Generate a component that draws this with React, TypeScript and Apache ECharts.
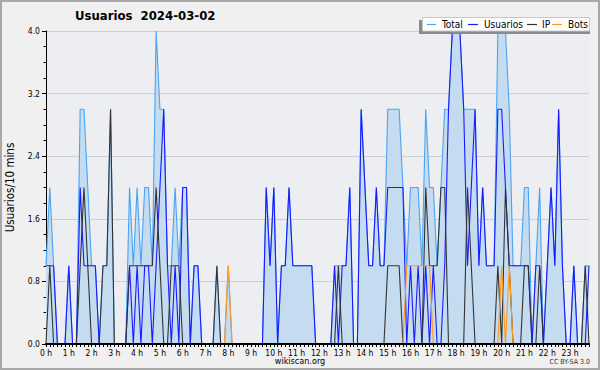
import React, { useEffect, useRef } from "react";
import * as echarts from "echarts";

const hourLabels = [
  "0 h", "1 h", "2 h", "3 h", "4 h", "5 h", "6 h", "7 h", "8 h", "9 h", "10 h", "11 h",
  "12 h", "13 h", "14 h", "15 h", "16 h", "17 h", "18 h", "19 h", "20 h", "21 h", "22 h", "23 h",
];

// 10-minute slots (6 per hour)
const categories: string[] = [];
hourLabels.forEach((h, hi) => {
  for (let m = 0; m < 6; m++) categories.push(m === 0 ? h : `${hi}:${m}0`);
});

const total = [
  1, 2, 1, 0, 0, 0, 1, 0, 0, 3, 3, 2,
  1, 1, 0, 1, 1, 3, 0, 0, 0, 0, 2, 1,
  2, 1, 2, 2, 1, 4, 3, 3, 1, 1, 2, 1,
  2, 2, 0, 1, 1, 0, 0, 0, 0, 1, 0, 0,
  1, 0, 0, 0, 0, 0, 0, 0, 0, 0, 2, 1,
  2, 0, 1, 1, 2, 1, 1, 1, 1, 1, 1, 0,
  0, 0, 0, 0, 1, 1, 1, 1, 2, 0, 0, 3,
  2, 1, 1, 2, 1, 1, 3, 3, 3, 3, 2, 1,
  2, 2, 2, 1, 3, 2, 2, 1, 2, 3, 3, 4,
  4, 4, 3, 3, 3, 3, 1, 2, 1, 1, 1, 4,
  4, 4, 3, 1, 1, 1, 2, 2, 0, 1, 2, 0,
  1, 2, 1, 3, 1, 0, 0, 1, 0, 0, 1, 1,
];

const usuarios = [
  1, 1, 1, 0, 0, 0, 1, 0, 0, 2, 1, 1,
  1, 1, 0, 0, 0, 0, 0, 0, 0, 0, 1, 0,
  1, 0, 1, 1, 0, 1, 2, 3, 1, 0, 1, 0,
  2, 2, 0, 1, 1, 0, 0, 0, 0, 0, 0, 0,
  0, 0, 0, 0, 0, 0, 0, 0, 0, 0, 2, 1,
  2, 0, 1, 1, 2, 1, 1, 1, 1, 1, 1, 0,
  0, 0, 0, 0, 1, 0, 1, 1, 2, 0, 0, 3,
  2, 1, 1, 2, 1, 1, 2, 2, 2, 2, 2, 0,
  1, 0, 1, 0, 1, 0, 1, 0, 0, 1, 3, 4,
  4, 4, 3, 1, 2, 3, 1, 2, 1, 1, 1, 3,
  3, 2, 1, 1, 1, 1, 1, 1, 0, 1, 1, 0,
  1, 2, 1, 3, 1, 0, 0, 1, 0, 0, 0, 1,
];

const ip = [
  0, 1, 0, 0, 0, 0, 0, 0, 0, 1, 2, 1,
  0, 0, 0, 1, 1, 3, 0, 0, 0, 0, 1, 1,
  1, 1, 1, 1, 1, 2, 1, 0, 0, 1, 1, 1,
  0, 0, 0, 0, 0, 0, 0, 0, 0, 1, 0, 0,
  0, 0, 0, 0, 0, 0, 0, 0, 0, 0, 0, 0,
  0, 0, 0, 0, 0, 0, 0, 0, 0, 0, 0, 0,
  0, 0, 0, 0, 0, 1, 0, 0, 0, 0, 0, 0,
  0, 0, 0, 0, 0, 0, 1, 1, 1, 1, 0, 0,
  0, 0, 0, 0, 2, 1, 1, 1, 2, 2, 0, 0,
  0, 0, 0, 2, 1, 0, 0, 0, 0, 0, 0, 1,
  0, 2, 1, 0, 0, 0, 1, 1, 0, 0, 1, 0,
  0, 0, 0, 0, 0, 0, 0, 0, 0, 0, 1, 0,
];

const bots = [
  0, 0, 0, 0, 0, 0, 0, 0, 0, 0, 0, 0,
  0, 0, 0, 0, 0, 0, 0, 0, 0, 0, 0, 0,
  0, 0, 0, 0, 0, 0, 0, 0, 0, 0, 0, 0,
  0, 0, 0, 0, 0, 0, 0, 0, 0, 0, 0, 0,
  1, 0, 0, 0, 0, 0, 0, 0, 0, 0, 0, 0,
  0, 0, 0, 0, 0, 0, 0, 0, 0, 0, 0, 0,
  0, 0, 0, 0, 0, 0, 0, 0, 0, 0, 0, 0,
  0, 0, 0, 0, 0, 0, 0, 0, 0, 0, 0, 1,
  1, 1, 1, 1, 1, 1, 0, 0, 0, 0, 0, 0,
  0, 0, 0, 0, 0, 0, 0, 0, 0, 0, 0, 0,
  1, 0, 1, 0, 0, 0, 0, 0, 0, 0, 0, 0,
  0, 0, 0, 0, 0, 0, 0, 0, 0, 0, 0, 0,
];

const seriesNames = ["Total", "Usuarios", "IP", "Bots"];
const seriesColors = ["#4ba3f2", "#1a1aff", "#333333", "#ff9a1a"];

const FONT = '"DejaVu Sans Condensed", "DejaVu Sans", sans-serif';

export default function App() {
  const ref = useRef<HTMLDivElement>(null);
  useEffect(() => {
    document.body.style.margin = "0";
    const chart = echarts.init(ref.current!, null, { renderer: "svg" });
    const dataSets = [total, usuarios, ip, bots];
    const legendLines = [
      [427, 436, 442],
      [468, 478, 484],
      [527, 537, 542],
      [552, 562, 568],
    ];
    chart.setOption({
      animation: false,
      backgroundColor: "#f0f0f0",
      textStyle: { fontFamily: FONT },
      grid: {
        left: 46,
        right: 11,
        top: 31,
        bottom: 26,
        containLabel: false,
        outerBoundsMode: "none",
        show: true,
        backgroundColor: "#eceef1",
        borderWidth: 0,
      },
      xAxis: {
        type: "category",
        data: categories,
        boundaryGap: false,
        z: 5,
        axisLine: { show: true, lineStyle: { color: "#000", width: 2 } },
        axisTick: { show: true, interval: 0, length: 3, lineStyle: { color: "#000", width: 1 } },
        axisLabel: {
          interval: 5,
          margin: 4,
          fontSize: 8.5,
          color: "#000",
          fontFamily: FONT,
        },
        splitLine: { show: false },
      },
      yAxis: {
        type: "value",
        min: 0,
        max: 4,
        interval: 0.8,
        name: "Usuarios/10 mins",
        nameLocation: "middle",
        nameGap: 30,
        nameTextStyle: { fontSize: 11.5, color: "#000", fontFamily: FONT },
        axisLine: { show: true, lineStyle: { color: "#000", width: 1 } },
        axisTick: { show: true, length: 4, lineStyle: { color: "#000" } },
        minorTick: { show: true, splitNumber: 4, length: 2.5, lineStyle: { color: "#000" } },
        axisLabel: {
          formatter: (v: number) => v.toFixed(1),
          fontSize: 8.5,
          color: "#000",
          margin: 6,
          fontFamily: FONT,
        },
        splitLine: { show: true, lineStyle: { color: "#cfcfcf", width: 1 } },
      },
      series: seriesNames.map((name, k) => ({
        name,
        type: "line",
        data: dataSets[k],
        symbol: "none",
        smooth: false,
        z: 2 + k * 0.1,
        lineStyle: { color: seriesColors[k], width: 1.1 },
        itemStyle: { color: seriesColors[k] },
        areaStyle: k === 0 ? { color: "#c5dcf0", opacity: 1 } : undefined,
      })),
      graphic: [
        {
          type: "text",
          left: 75,
          top: 9,
          style: {
            text: "Usuarios  2024-03-02",
            fontSize: 13,
            fontWeight: "bold",
            fontFamily: FONT,
            fill: "#000",
          },
        },
        {
          type: "rect",
          z: 50,
          shape: { x: 419, y: 20, width: 171, height: 14 },
          style: { fill: "#8a8a8a" },
        },
        {
          type: "rect",
          z: 51,
          shape: { x: 422.5, y: 17.5, width: 167, height: 13.5 },
          style: { fill: "#ffffff", stroke: "#c8c8c8", lineWidth: 1 },
        },
        ...legendLines.flatMap(([x1, x2, tx], k) => [
          {
            type: "line",
            z: 52,
            shape: { x1, y1: 24.5, x2, y2: 24.5 },
            style: { stroke: seriesColors[k], lineWidth: 1.2 },
          },
          {
            type: "text",
            z: 52,
            x: tx,
            y: 24.5,
            style: {
              text: seriesNames[k],
              fontSize: 10,
              fontFamily: FONT,
              fill: "#000",
              verticalAlign: "middle",
              align: "left",
            },
          },
        ]),
        {
          type: "text",
          x: 300,
          y: 361,
          style: {
            text: "wikiscan.org",
            fontSize: 9,
            fontFamily: FONT,
            fill: "#000",
            align: "center",
            verticalAlign: "middle",
          },
        },
        {
          type: "text",
          x: 590,
          y: 362,
          style: {
            text: "CC BY-SA 3.0",
            fontSize: 7,
            fontFamily: FONT,
            fill: "#333",
            align: "right",
            verticalAlign: "middle",
          },
        },
        {
          type: "rect",
          z: 60,
          shape: { x: 1, y: 1, width: 598, height: 368 },
          style: { fill: "none", stroke: "#a8a8a8", lineWidth: 2 },
        },
      ],
    });
    return () => chart.dispose();
  }, []);
  return <div ref={ref} style={{ width: 600, height: 370 }} />;
}
